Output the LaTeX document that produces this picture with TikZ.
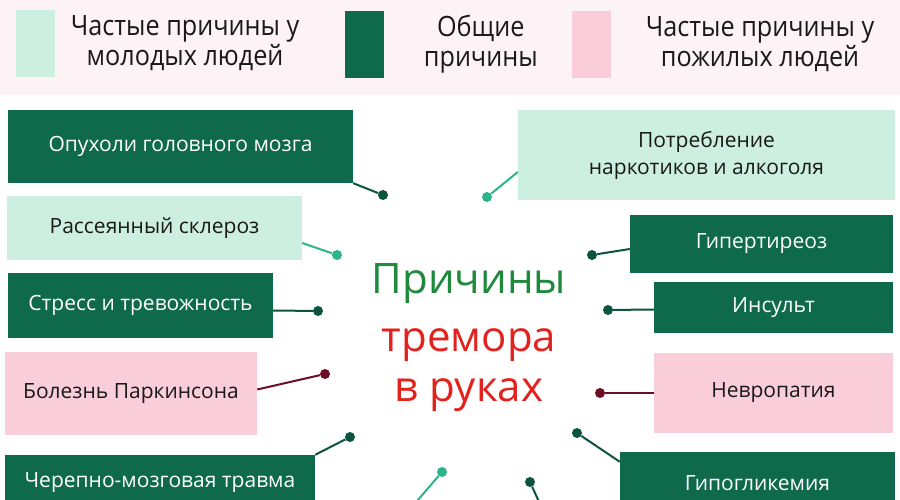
\documentclass[tikz,border=0pt]{standalone}
\usepackage{fontspec}
\setmainfont{Open Sans}
\newfontfamily\legendfont[FakeStretch=0.9]{Open Sans}
\usepackage{xcolor}
\usetikzlibrary{positioning}

\definecolor{darkgreen}{HTML}{0F6A4C}
\definecolor{mintgreen}{HTML}{CDEFE2}
\definecolor{palepink}{HTML}{F9CDDA}
\definecolor{headerbg}{HTML}{FDF2F5}
\definecolor{mintdot}{HTML}{2CB58B}
\definecolor{darkdot}{HTML}{0B5440}
\definecolor{wine}{HTML}{6C0E26}
\definecolor{titlegreen}{HTML}{1F8A3C}
\definecolor{titlered}{HTML}{E3221E}

\begin{document}
\begin{tikzpicture}[x=1pt, y=-1pt,
    cause/.style={rectangle, inner sep=0pt, align=center, font=\fontsize{21}{27}\selectfont},
    common/.style={cause, fill=darkgreen, text=white},
    young/.style={cause, fill=mintgreen, text=black!90},
    old/.style={cause, fill=palepink, text=black!90},
    swatch/.style={rectangle, inner sep=0pt, minimum width=39pt, minimum height=67pt},
    legtext/.style={align=center, inner sep=0pt, font=\legendfont\fontsize{28}{30}\selectfont, text=black!90},
    title/.style={inner sep=0pt, anchor=base, font=\fontsize{42}{50}\selectfont},
    pin/.style={circle, inner sep=0pt, minimum size=10pt},
    link/.style={line width=2pt}]
    \useasboundingbox (0,0) rectangle (900,500);
    \clip (0,0) rectangle (900,500);
    \fill[white] (0,0) rectangle (900,500);
    \fill[headerbg] (0,0) rectangle (900,95);

    % legend
    \node[swatch, fill=mintgreen] (young-sw) at (35,43.5) {};
    \node[swatch, fill=darkgreen] (common-sw) at (364,44.5) {};
    \node[swatch, fill=palepink] (old-sw) at (591,44.5) {};
    \node[legtext, right=16pt of young-sw] (young-txt) {Частые причины у\\молодых людей};
    \node[legtext, right=40pt of common-sw] (common-txt) {Общие\\причины};
    \node[legtext, right=35pt of old-sw] (old-txt) {Частые причины у\\пожилых людей};

    % title in the middle
    \node[title, text=titlegreen] (title-a) at (469,293) {Причины};
    \node[title, text=titlered] (title-b) at (469,351) {тремора};
    \node[title, text=titlered] (title-c) at (469,401) {в руках};

    % causes on the left
    \node[common, minimum width=345pt, minimum height=73pt] (tumor) at (180.5,146.5) {Опухоли головного мозга};
    \node[young, minimum width=295pt, minimum height=64pt] (sclerosis) at (154.5,228) {Рассеянный склероз};
    \node[common, minimum width=265pt, minimum height=65pt] (stress) at (140.5,305.5) {Стресс и тревожность};
    \node[old, minimum width=252pt, minimum height=83pt] (parkinson) at (131,393.5) {Болезнь Паркинсона};
    \node[common, minimum width=310pt, minimum height=56pt] (trauma) at (160,483) {Черепно-мозговая травма};

    % causes on the right
    \node[young, minimum width=377pt, minimum height=90pt] (drugs) at (706.5,155) {Потребление\\наркотиков и алкоголя};
    \node[common, minimum width=263pt, minimum height=58pt] (hyperthyr) at (761.5,244) {Гипертиреоз};
    \node[common, minimum width=239pt, minimum height=51pt] (stroke) at (773.5,307.5) {Инсульт};
    \node[old, minimum width=239pt, minimum height=80pt] (neuropathy) at (773.5,393) {Невропатия};
    \node[common, minimum width=275pt, minimum height=62pt] (hypogly) at (757.5,483) {Гипогликемия};

    % pins round the title
    \node[pin, fill=darkdot] (tumor-pin) at (383,195) {};
    \node[pin, fill=mintdot] (sclerosis-pin) at (337,255) {};
    \node[pin, fill=darkdot] (stress-pin) at (318,311) {};
    \node[pin, fill=wine] (parkinson-pin) at (325,374) {};
    \node[pin, fill=darkdot] (trauma-pin) at (350,437) {};
    \node[pin, fill=mintdot] (low-pin-a) at (442,472) {};
    \node[pin, fill=darkdot] (low-pin-b) at (530,482) {};
    \node[pin, fill=darkdot] (hypogly-pin) at (577,433) {};
    \node[pin, fill=mintdot] (drugs-pin) at (487,197) {};
    \node[pin, fill=darkdot] (hyperthyr-pin) at (592,255) {};
    \node[pin, fill=darkdot] (stroke-pin) at (608,310) {};
    \node[pin, fill=wine] (neuropathy-pin) at (600,393) {};
    \coordinate (off-a) at (405,515);
    \coordinate (off-b) at (545,515);

    % connectors
    \draw[link, darkdot] (tumor.south east) -- (tumor-pin);
    \draw[link, mintdot] ([yshift=-15pt]sclerosis.east) -- (sclerosis-pin);
    \draw[link, darkdot] ([yshift=-5pt]stress.east) -- (stress-pin);
    \draw[link, wine] ([yshift=4pt]parkinson.east) -- (parkinson-pin);
    \draw[link, darkdot] (trauma.north east) -- (trauma-pin);
    \draw[link, mintdot] (low-pin-a) -- (off-a);
    \draw[link, darkdot] (low-pin-b) -- (off-b);
    \draw[link, darkdot] ([yshift=-10pt]hypogly.north west) -- (hypogly-pin);
    \draw[link, mintdot] ([yshift=-17pt]drugs.west) -- (drugs-pin);
    \draw[link, darkdot] ([yshift=-5pt]hyperthyr.west) -- (hyperthyr-pin);
    \draw[link, darkdot] ([yshift=-2pt]stroke.west) -- (stroke-pin);
    \draw[link, wine] (neuropathy.west) -- (neuropathy-pin);
\end{tikzpicture}
\end{document}
